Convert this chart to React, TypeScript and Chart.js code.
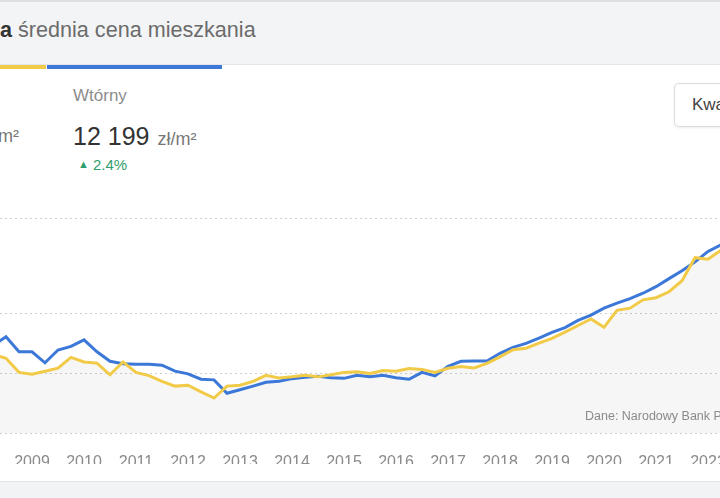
import React, { useEffect, useRef } from "react";
import { Chart, registerables } from "chart.js";

Chart.register(...registerables);

const years = [2008, 2009, 2010, 2011, 2012, 2013, 2014, 2015, 2016, 2017, 2018, 2019, 2020, 2021, 2022];
const quarterNames = ["Q1", "Q2", "Q3", "Q4"];
const lastQuarterCount = 58; // 2008 Q1 .. 2022 Q2

// Rynek wtórny (blue), zł/m²
const wtorny: (number | null)[] = [
  null, 6930, 7220, 6720,
  6720, 6350, 6780, 6900,
  7120, 6720, 6400, 6320,
  6300, 6300, 6270, 6070,
  5980, 5800, 5780, 5330,
  5450, 5570, 5700, 5730,
  5820, 5870, 5900, 5850,
  5830, 5930, 5880, 5930,
  5850, 5800, 6030, 5910,
  6230, 6400, 6410, 6410,
  6670, 6870, 7000, 7180,
  7370, 7530, 7770, 7950,
  8180, 8350, 8500, 8680,
  8900, 9170, 9430, 9730,
  10080, 10300,
];

// Rynek pierwotny (yellow), zł/m²
const pierwotny: (number | null)[] = [
  null, 6630, 6500, 6030,
  5970, 6070, 6170, 6530,
  6380, 6340, 5950, 6380,
  6030, 5920, 5730, 5570,
  5600, 5380, 5170, 5570,
  5600, 5730, 5930, 5840,
  5880, 5930, 5880, 5950,
  6030, 6050, 5990, 6090,
  6070, 6160, 6130, 6030,
  6170, 6230, 6180, 6330,
  6550, 6790, 6840, 7010,
  7170, 7380, 7600, 7820,
  7540, 8110, 8180, 8460,
  8530, 8730, 9100, 9870,
  9820, 10120,
];

const yGridValues = [4000, 6000, 8000, 11200];

const categories: string[] = [];
years.forEach((y) => quarterNames.forEach((q) => categories.push(`${y} ${q}`)));
const labels = categories.slice(0, lastQuarterCount);

const BLUE = "#3b78d8";
const YELLOW = "#f1cb48";
const FONT = "'Liberation Sans', Arial, Helvetica, sans-serif";

function PriceChart() {
  const ref = useRef<HTMLCanvasElement | null>(null);
  useEffect(() => {
    if (!ref.current) return;
    const chart = new Chart(ref.current, {
      type: "line",
      data: {
        labels,
        datasets: [
          {
            label: "Pierwotny",
            data: pierwotny,
            borderColor: YELLOW,
            backgroundColor: "rgba(0,0,0,0.035)",
            borderWidth: 3,
            pointRadius: 0,
            tension: 0,
            fill: "start",
          },
          {
            label: "Wtórny",
            data: wtorny,
            borderColor: BLUE,
            backgroundColor: "transparent",
            borderWidth: 3,
            pointRadius: 0,
            tension: 0,
            fill: false,
          },
        ],
      },
      options: {
        animation: false,
        responsive: false,
        maintainAspectRatio: false,
        layout: { padding: 0 },
        plugins: {
          legend: { display: false },
          tooltip: { enabled: false },
          filler: { drawTime: "beforeDatasetsDraw" },
        },
        scales: {
          x: {
            type: "category",
            offset: false,
            grid: { display: false },
            border: { display: false },
            ticks: {
              autoSkip: false,
              maxRotation: 0,
              minRotation: 0,
              padding: 12,
              color: "#8a8a8a",
              font: { family: FONT, size: 16 },
              callback: (_v: any, i: number) => {
                const l = labels[i];
                return l.endsWith("Q1") ? l.slice(0, 4) : "";
              },
            },
            afterFit: (s: any) => {
              s.paddingLeft = 0;
              s.paddingRight = 0;
              s.height = 31;
            },
          },
          y: {
            type: "linear",
            min: 4000,
            max: 11200,
            grid: { color: "#cfcfcf", lineWidth: 1, drawTicks: false },
            border: { display: false, dash: [2, 3] },
            ticks: { display: false },
            afterBuildTicks: (s: any) => {
              s.ticks = yGridValues.map((value) => ({ value }));
            },
            afterFit: (s: any) => {
              s.width = 0;
            },
          },
        },
      },
    });
    return () => chart.destroy();
  }, []);
  return (
    <canvas
      ref={ref}
      width={741}
      height={246}
      style={{ position: "absolute", left: -20, top: 218, width: 741, height: 246 }}
    />
  );
}

export default function App() {
  return (
    <div
      style={{
        position: "fixed",
        left: 0,
        top: 0,
        width: 720,
        height: 498,
        overflow: "hidden",
        background: "#ffffff",
        fontFamily: FONT,
      }}
    >
      {/* header */}
      <div
        style={{
          position: "absolute",
          left: 0,
          top: 0,
          width: 720,
          height: 65,
          background: "#f3f4f6",
          borderTop: "2px solid #dedfe2",
          borderBottom: "1px solid #e4e5e8",
          boxSizing: "border-box",
        }}
      />
      <div
        style={{
          position: "absolute",
          left: 0,
          top: 17,
          fontSize: 21.6,
          lineHeight: "26px",
          color: "#6b6b6b",
          whiteSpace: "nowrap",
        }}
      >
        <span style={{ color: "#333", fontWeight: 700 }}>a</span> średnia cena mieszkania
      </div>
      {/* tab underline */}
      <div style={{ position: "absolute", left: 0, top: 65, width: 46, height: 4, background: YELLOW }} />
      <div style={{ position: "absolute", left: 47, top: 65, width: 175, height: 4, background: BLUE }} />

      {/* left tab value (cut) */}
      <div
        style={{
          position: "absolute",
          right: 701,
          top: 124,
          fontSize: 18,
          lineHeight: "24px",
          color: "#777",
          whiteSpace: "nowrap",
        }}
      >
        zł/m²
      </div>

      {/* Wtórny */}
      <div style={{ position: "absolute", left: 73, top: 85, fontSize: 17, lineHeight: "22px", color: "#8c8c8c" }}>
        Wtórny
      </div>
      <div style={{ position: "absolute", left: 73, top: 120, whiteSpace: "nowrap", lineHeight: "32px" }}>
        <span style={{ fontSize: 25, color: "#333" }}>12 199</span>
        <span style={{ fontSize: 18, color: "#777", marginLeft: 8 }}>zł/m²</span>
      </div>
      <div
        style={{
          position: "absolute",
          left: 78,
          top: 155,
          fontSize: 15,
          lineHeight: "20px",
          color: "#2f9e6d",
          whiteSpace: "nowrap",
        }}
      >
        <span style={{ fontSize: 11, marginRight: 4, position: "relative", top: -2 }}>▲</span>2.4%
      </div>

      {/* Kwartalnie button */}
      <div
        style={{
          position: "absolute",
          left: 674,
          top: 83,
          width: 130,
          height: 44,
          boxSizing: "border-box",
          border: "1px solid #dcdcdc",
          borderRadius: 5,
          background: "#fff",
          boxShadow: "0 1px 3px rgba(0,0,0,0.08)",
          fontSize: 17,
          lineHeight: "42px",
          paddingLeft: 17,
          color: "#444",
          whiteSpace: "nowrap",
        }}
      >
        Kwartalnie
      </div>

      <PriceChart />

      {/* source note */}
      <div
        style={{
          position: "absolute",
          left: 585,
          top: 408,
          fontSize: 12.5,
          lineHeight: "16px",
          color: "#8a8a8a",
          whiteSpace: "nowrap",
        }}
      >
        Dane: Narodowy Bank Polski
      </div>

      {/* footer */}
      <div
        style={{
          position: "absolute",
          left: 0,
          top: 481,
          width: 720,
          height: 17,
          background: "#f2f3f5",
          borderTop: "1px solid #e2e3e6",
          boxSizing: "border-box",
        }}
      />
    </div>
  );
}
